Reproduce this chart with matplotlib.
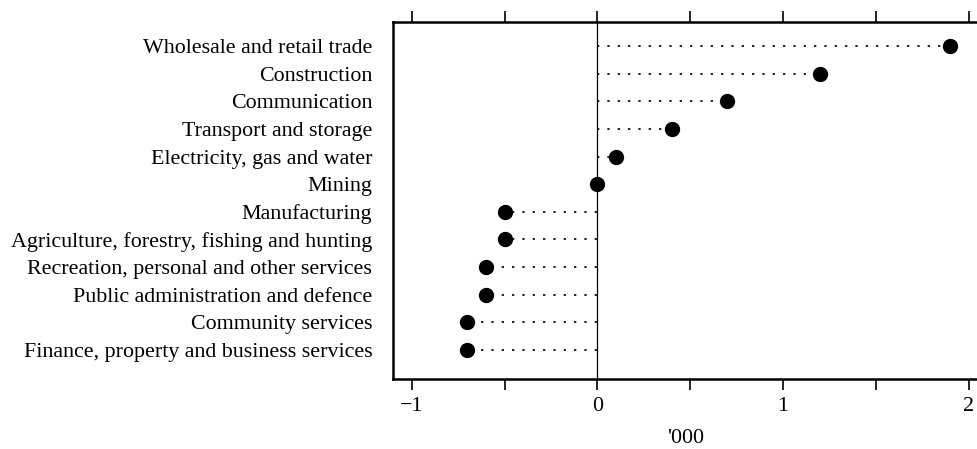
import matplotlib
matplotlib.use("Agg")
import matplotlib.pyplot as plt
from matplotlib.ticker import MultipleLocator

# Employment change by industry, thousands
industries = [
    "Wholesale and retail trade",
    "Construction",
    "Communication",
    "Transport and storage",
    "Electricity, gas and water",
    "Mining",
    "Manufacturing",
    "Agriculture, forestry, fishing and hunting",
    "Recreation, personal and other services",
    "Public administration and defence",
    "Community services",
    "Finance, property and business services",
]
change = [1.9, 1.2, 0.7, 0.4, 0.1, 0.0, -0.5, -0.5, -0.6, -0.6, -0.7, -0.7]
x_ticks = [-1, 0, 1, 2]

plt.rcParams["font.family"] = ["Liberation Serif", "DejaVu Serif"]

fig = plt.figure(figsize=(9.78, 4.49), dpi=100)
ax = fig.add_axes([0.402, 0.156, 0.598, 0.795])

rows = list(range(len(industries), 0, -1))

# dotted leaders from zero out to each value
ax.hlines(rows, 0, change, colors="black", linestyles=(0, (1.4, 4.8)), linewidth=1.2)
ax.axvline(0, color="black", linewidth=0.9)
ax.plot(change, rows, "o", color="black", markersize=10, zorder=3)

ax.set_xlim(-1.1, 2.05)
ax.set_ylim(-0.05, len(industries) + 0.87)
ax.set_yticks(rows)
ax.set_yticklabels(industries, fontsize=15.8)
ax.tick_params(axis="y", length=0, pad=15)

ax.set_xticks(x_ticks)
ax.set_xticklabels(["\u22121", "0", "1", "2"], fontsize=15.8)
ax.xaxis.set_minor_locator(MultipleLocator(0.5))
ax.tick_params(axis="x", which="both", direction="out", length=8, width=1.2,
               top=True, labeltop=False, pad=5)
ax.set_xlabel("'000", fontsize=15.8, labelpad=9)

ax.spines["right"].set_visible(False)
for side in ("left", "top", "bottom"):
    ax.spines[side].set_linewidth(1.8)

fig.savefig("out.png", dpi=100)
